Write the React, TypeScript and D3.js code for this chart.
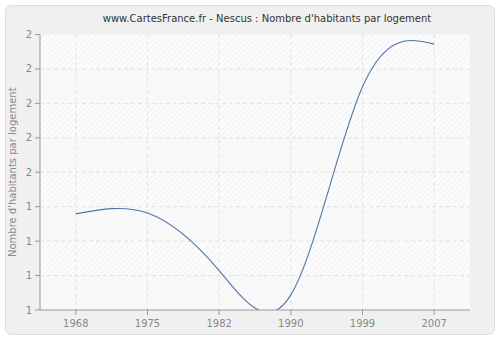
import React from "react";
import * as d3 from "d3";

const years = ["1968", "1975", "1982", "1990", "1999", "2007"];
const values = [1.349, 1.352, 1.143, 1.055, 1.81, 1.965];
const yTicks = [1, 1.125, 1.25, 1.375, 1.5, 1.625, 1.75, 1.875, 2];

const W = 500, H = 340;
const M = { left: 40, right: 470, top: 34.5, bottom: 310 };

export default function App() {
  const x = d3.scaleBand().domain(years).range([M.left, M.right]);
  const xc = (d: string) => (x(d) as number) + x.bandwidth() / 2;
  const y = d3.scaleLinear().domain([1, 2]).range([M.bottom, M.top]);
  const line = d3
    .line<number>()
    .x((_, i) => xc(years[i]))
    .y((d) => y(d))
    .curve(d3.curveNatural);
  const rows = yTicks.slice(0, -1).map((t, i) => ({ y0: y(yTicks[i + 1]), y1: y(t), i }));
  const font = "DejaVu Sans, Verdana, sans-serif";
  return (
    <svg width={W} height={H} style={{ position: "absolute", left: 0, top: 0 }}>
      <defs>
        <pattern id="hatch" width="4" height="4" patternUnits="userSpaceOnUse" patternTransform="rotate(45)">
          <line x1="0" y1="0" x2="0" y2="4" stroke="#ebebeb" strokeWidth="1.2" />
        </pattern>
        <clipPath id="clip">
          <rect x={M.left} y={M.top} width={M.right - M.left} height={M.bottom - M.top} />
        </clipPath>
      </defs>
      <rect x={0} y={0} width={W} height={H} fill="#ffffff" />
      <rect x={5.5} y={5.5} width={489} height={329} rx={6} fill="#f0f0f0" stroke="#dddddd" />
      <text x={267} y={22} textAnchor="middle" fontFamily={font} fontSize={10} fill="#333">
        www.CartesFrance.fr - Nescus : Nombre d'habitants par logement
      </text>
      <rect x={M.left} y={M.top} width={M.right - M.left} height={M.bottom - M.top} fill="#fcfcfc" />
      <rect x={M.left} y={M.top} width={M.right - M.left} height={M.bottom - M.top} fill="url(#hatch)" />
      {rows
        .filter((r) => (yTicks.length - 2 - r.i) % 2 === 1)
        .map((r) => (
          <rect key={r.i} x={M.left} y={r.y0} width={M.right - M.left} height={r.y1 - r.y0} fill="#f8f8f8" opacity={0.75} />
        ))}
      {yTicks.slice(1, -1).map((t) => (
        <line key={t} x1={M.left} x2={M.right} y1={y(t)} y2={y(t)} stroke="#e2e2e2" strokeDasharray="4,3" />
      ))}
      {years.map((yr) => (
        <line key={yr} x1={xc(yr)} x2={xc(yr)} y1={M.top} y2={M.bottom} stroke="#e2e2e2" strokeDasharray="4,3" />
      ))}
      <path d={line(values) || ""} fill="none" stroke="#4f76a8" strokeWidth={1.1} clipPath="url(#clip)" />
      <line x1={M.left} x2={M.left} y1={M.top} y2={M.bottom} stroke="#999" />
      <line x1={M.left} x2={M.right} y1={M.bottom} y2={M.bottom} stroke="#999" />
      {yTicks.map((t) => (
        <g key={t}>
          <line x1={M.left - 5} x2={M.left} y1={y(t)} y2={y(t)} stroke="#999" />
          <text x={M.left - 8} y={y(t)} dy="0.35em" textAnchor="end" fontFamily={font} fontSize={10} fill="#888">
            {d3.format(".0f")(t)}
          </text>
        </g>
      ))}
      {years.map((yr) => (
        <g key={yr}>
          <line x1={xc(yr)} x2={xc(yr)} y1={M.bottom} y2={M.bottom + 5} stroke="#999" />
          <text x={xc(yr)} y={M.bottom + 17} textAnchor="middle" fontFamily={font} fontSize={10} fill="#888">
            {yr}
          </text>
        </g>
      ))}
      <text
        transform={`translate(16,${(M.top + M.bottom) / 2}) rotate(-90)`}
        textAnchor="middle"
        fontFamily={font}
        fontSize={10}
        fill="#888"
      >
        Nombre d'habitants par logement
      </text>
    </svg>
  );
}
